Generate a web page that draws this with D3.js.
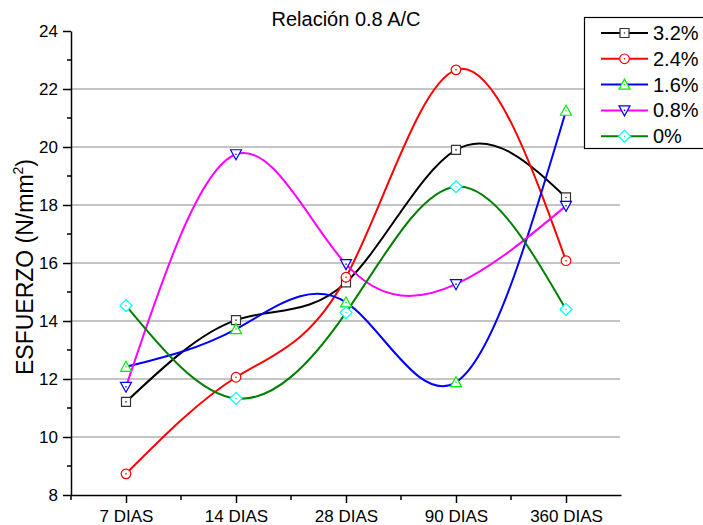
<!DOCTYPE html>
<html>
<head>
<meta charset="utf-8">
<script src="https://cdn.jsdelivr.net/npm/d3@7"></script>
<style>
  body { margin: 0; background: #fff; }
  svg { display: block; font-family: "Liberation Sans", Arial, sans-serif; }
</style>
</head>
<body>
<svg id="chart" width="703" height="525"></svg>
<script>
// Curing ages on the x axis
const categories = ["7 DIAS", "14 DIAS", "28 DIAS", "90 DIAS", "360 DIAS"];
// Compressive stress (N/mm²) per additive dosage
const names = ["3.2%", "2.4%", "1.6%", "0.8%", "0%"];
const v32 = [11.21, 14.03, 15.33, 19.90, 18.26];
const v24 = [8.73, 12.06, 15.51, 22.66, 16.08];
const v16 = [12.42, 13.72, 14.64, 11.89, 21.25];
const v08 = [11.73, 19.75, 15.96, 15.27, 17.97];
const v00 = [14.53, 11.33, 14.29, 18.63, 14.40];
const yTicks = [8, 10, 12, 14, 16, 18, 20, 22, 24];
const yMinor = [9, 11, 13, 15, 17, 19, 21, 23];
const gridValues = [10, 12, 14, 16, 18, 20, 22];

const series = [
  { name: names[0], values: v32, line: "#000000", mark: "#333333", shape: "square" },
  { name: names[1], values: v24, line: "#ff0000", mark: "#ff0000", shape: "circle" },
  { name: names[2], values: v16, line: "#0000ff", mark: "#00ee00", shape: "up" },
  { name: names[3], values: v08, line: "#ff00ff", mark: "#0000ff", shape: "down" },
  { name: names[4], values: v00, line: "#008000", mark: "#00ffff", shape: "diamond" }
];

const svg = d3.select("#chart");
const plotL = 71, plotR = 621, plotT = 31, plotB = 495;

const x = d3.scalePoint().domain(categories).range([plotL, plotR]).padding(0.5);
const y = d3.scaleLinear().domain([8, 24]).range([plotB, plotT]);

// horizontal grid
svg.append("g").selectAll("line").data(gridValues).join("line")
  .attr("x1", plotL).attr("x2", plotR - 1)
  .attr("y1", d => y(d)).attr("y2", d => y(d))
  .attr("stroke", "#8a8a8a").attr("stroke-width", 1);

// y axis
const yAxis = svg.append("g").attr("transform", `translate(${plotL},0)`)
  .call(d3.axisLeft(y).tickValues(yTicks).tickSize(8).tickSizeOuter(0).tickPadding(5));
yAxis.selectAll(".tick text").attr("font-size", 17).attr("fill", "#000")
  .attr("font-family", "Liberation Sans, Arial, sans-serif");
yAxis.select(".domain").attr("stroke-width", 1.5);
yAxis.selectAll(".tick line").attr("stroke-width", 1.5);
svg.append("g").selectAll("line").data(yMinor).join("line")
  .attr("x1", plotL - 4).attr("x2", plotL)
  .attr("y1", d => y(d)).attr("y2", d => y(d))
  .attr("stroke", "#000").attr("stroke-width", 1.5);

// x axis
const xAxis = svg.append("g").attr("transform", `translate(0,${plotB})`)
  .call(d3.axisBottom(x).tickSize(8).tickSizeOuter(0).tickPadding(7));
xAxis.selectAll(".tick text").attr("font-size", 17).attr("fill", "#000")
  .attr("font-family", "Liberation Sans, Arial, sans-serif");
xAxis.select(".domain").attr("stroke-width", 1.5);
xAxis.selectAll(".tick line").attr("stroke-width", 1.5);
const step = x.step();
svg.append("g").selectAll("line").data(categories).join("line")
  .attr("x1", d => x(d) - step / 2).attr("x2", d => x(d) - step / 2)
  .attr("y1", plotB).attr("y2", plotB + 5)
  .attr("stroke", "#000").attr("stroke-width", 1.5);

// title
svg.append("text").attr("x", (plotL + plotR) / 2).attr("y", 26)
  .attr("text-anchor", "middle").attr("font-size", 20).text("Relación 0.8 A/C");

// y label
const yl = svg.append("text")
  .attr("transform", `translate(33,${(plotT + plotB) / 2 + 4}) rotate(-90)`)
  .attr("text-anchor", "middle").attr("font-size", 23);
yl.append("tspan").text("ESFUERZO (N/mm");
yl.append("tspan").attr("font-size", 14).attr("dy", -10).text("2");
yl.append("tspan").attr("dy", 10).text(")");

// marker shapes
function shapePath(shape) {
  switch (shape) {
    case "square": return "M-4.5,-4.5H4.5V4.5H-4.5Z";
    case "circle": return "M4.8,0A4.8,4.8 0 1 1 -4.8,0A4.8,4.8 0 1 1 4.8,0Z";
    case "up": return "M0,-5.5L5.5,4.5L-5.5,4.5Z";
    case "down": return "M0,5.5L5.5,-4.5L-5.5,-4.5Z";
    case "diamond": return "M0,-6L6,0L0,6L-6,0Z";
  }
}
function drawMarker(g, s) {
  g.append("path").attr("d", shapePath(s.shape))
    .attr("fill", "#fff").attr("stroke", s.mark).attr("stroke-width", 1.2);
  g.append("circle").attr("r", 0.8).attr("fill", s.mark);
}

const line = d3.line()
  .x((d, i) => x(categories[i]))
  .y(d => y(d))
  .curve(d3.curveNatural);

series.forEach(s => {
  svg.append("path").datum(s.values)
    .attr("d", line).attr("fill", "none")
    .attr("stroke", s.line).attr("stroke-width", 2);
});
series.forEach(s => {
  s.values.forEach((v, i) => {
    const g = svg.append("g").attr("transform", `translate(${x(categories[i])},${y(v)})`);
    drawMarker(g, s);
  });
});

// legend
const lg = svg.append("g");
lg.append("rect").attr("x", 584.5).attr("y", 17.5).attr("width", 130).attr("height", 131)
  .attr("fill", "#fff").attr("stroke", "#000").attr("stroke-width", 1.2);
series.forEach((s, i) => {
  const cy = 33 + i * 25.8;
  lg.append("line").attr("x1", 601).attr("x2", 648).attr("y1", cy).attr("y2", cy)
    .attr("stroke", s.line).attr("stroke-width", 2);
  drawMarker(lg.append("g").attr("transform", `translate(624.5,${cy})`), s);
  lg.append("text").attr("x", 653).attr("y", cy + 7).attr("font-size", 20).text(s.name);
});
</script>
</body>
</html>
